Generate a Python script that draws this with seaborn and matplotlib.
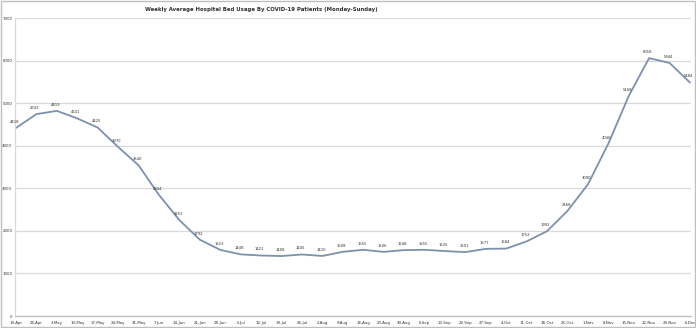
import matplotlib
matplotlib.use("Agg")
import matplotlib.pyplot as plt
import seaborn as sns
import pandas as pd
from matplotlib.patches import Rectangle

weeks = ["19-Apr", "26-Apr", "3-May", "10-May", "17-May", "24-May", "31-May", "7-Jun",
         "14-Jun", "21-Jun", "28-Jun", "5-Jul", "12-Jul", "19-Jul", "26-Jul", "2-Aug",
         "9-Aug", "16-Aug", "23-Aug", "30-Aug", "6-Sep", "13-Sep", "20-Sep", "27-Sep",
         "4-Oct", "11-Oct", "18-Oct", "25-Oct", "1-Nov", "8-Nov", "15-Nov", "22-Nov",
         "29-Nov", "6-Dec"]
beds = [4418, 4742, 4819, 4641, 4425, 3970, 3540, 2844,
        2252, 1792, 1553, 1448, 1421, 1408, 1445, 1410,
        1508, 1555, 1506, 1548, 1555, 1525, 1501, 1577,
        1584, 1752, 1992, 2468, 3090, 4046, 5168, 6058,
        5944, 5484]
y_ticks = [0, 1000, 2000, 3000, 4000, 5000, 6000, 7000]
title = "Weekly Average Hospital Bed Usage By COVID-19 Patients (Monday-Sunday)"

df = pd.DataFrame({"pos": range(len(weeks)), "week": weeks, "beds": beds})

sns.set_style("white")
plt.rcParams['font.family'] = ['DejaVu Sans']

fig = plt.figure(figsize=(6.96, 3.28), dpi=100)
ax = fig.add_axes([15/696, 12/328, (691-15)/696, (316-18)/328])

sns.lineplot(data=df, x="pos", y="beds", ax=ax, color="#7d91ad", linewidth=1.3)

for p, v in zip(df["pos"], df["beds"]):
    ax.annotate(str(v), (p, v), xytext=(-1, 3), textcoords="offset points",
                ha="center", va="bottom", fontsize=2.7, color="#303030")

ax.set_xlim(-0.05, len(weeks) - 1 + 0.05)
ax.set_ylim(0, 7000)
ax.set_yticks(y_ticks)
ax.set_yticklabels([str(t) for t in y_ticks], fontsize=2.8, color="#303030")
ax.set_xticks(df["pos"])
ax.set_xticklabels(weeks, fontsize=2.8, color="#303030")
ax.tick_params(axis="y", length=0, pad=2)
ax.tick_params(axis="x", length=2, width=0.5, color="#bfbfbf", pad=1.5, direction="out")
ax.grid(axis="y", color="#d9d9d9", linewidth=0.9)
ax.set_axisbelow(True)
for s in ["top", "right"]:
    ax.spines[s].set_visible(False)
ax.spines["left"].set_color("#d9d9d9")
ax.spines["left"].set_linewidth(0.9)
ax.spines["bottom"].set_color("#bfbfbf")
ax.spines["bottom"].set_linewidth(0.9)
ax.set_xlabel("")
ax.set_ylabel("")

fig.text(261/696, 1 - 9/328, title, ha="center", va="center", fontsize=3.9,
         fontweight="bold", color="#303030", family=["DejaVu Sans Condensed", "DejaVu Sans"])

fig.patches.append(Rectangle((0.001, 0.002), 0.997, 0.995, transform=fig.transFigure,
                             fill=False, edgecolor="#bfbfbf", linewidth=1))

fig.savefig("out.png", dpi=100)
